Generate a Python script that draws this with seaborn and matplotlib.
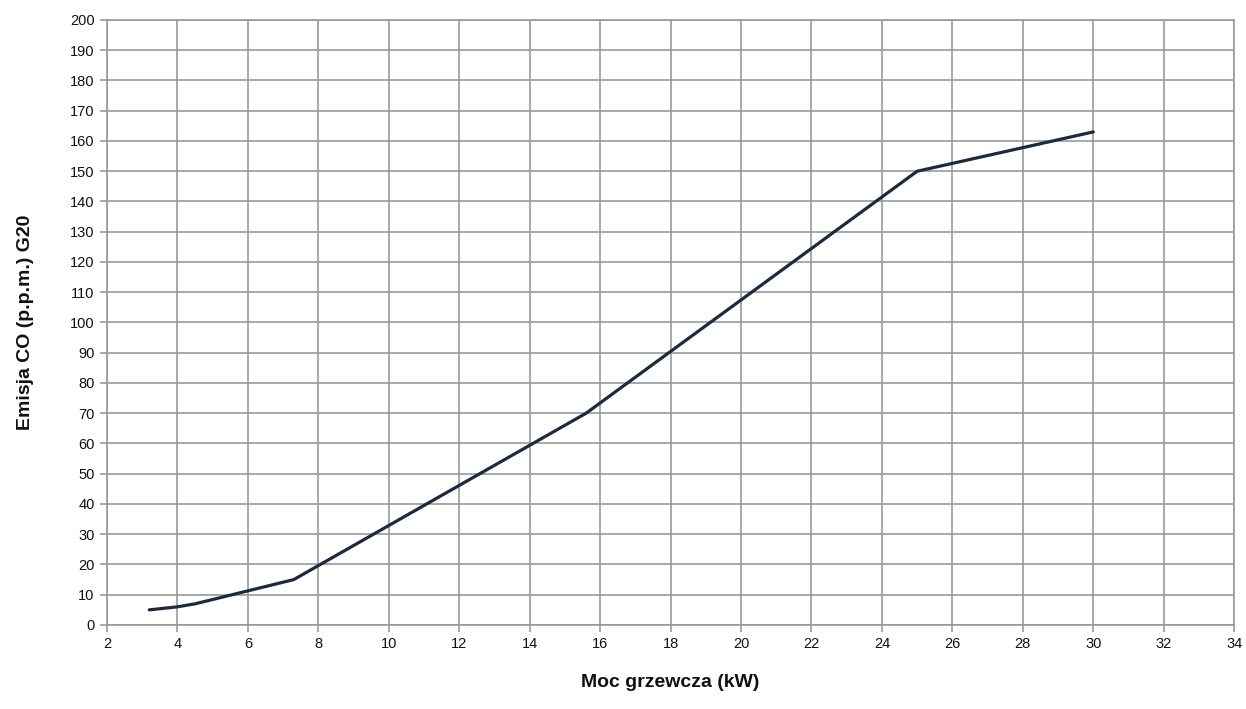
import pandas as pd
import seaborn as sns
import matplotlib.pyplot as plt

# data
moc_kw = [3.2, 4.0, 4.5, 7.3, 15.6, 25.0, 30.0]
emisja_co = [5, 6, 7, 15, 70, 150, 163]

df = pd.DataFrame({'moc': moc_kw, 'co': emisja_co})

sns.set_style('white', {'xtick.bottom': True, 'ytick.left': True})
plt.rcParams['font.family'] = ['Liberation Sans', 'DejaVu Sans']

fig = plt.figure(figsize=(12.46, 7.09), dpi=100)
ax = fig.add_axes([0.0859, 0.1185, 0.9046, 0.8533])

sns.lineplot(data=df, x='moc', y='co', ax=ax, color='#1b2a3f', linewidth=2.3)

ax.set_xlim(2, 34)
ax.set_ylim(0, 200)
ax.set_xticks(range(2, 35, 2))
ax.set_yticks(range(0, 201, 10))
ax.grid(True, color='#999999', linewidth=1.2)
ax.set_axisbelow(True)
for s in ax.spines.values():
    s.set_color('#999999')
    s.set_linewidth(1.2)
ax.tick_params(axis='both', direction='out', length=5, width=1.2, color='#999999',
               labelsize=10.5, labelcolor='#111111', pad=4)

ax.set_xlabel('Moc grzewcza (kW)', fontsize=14, fontweight='bold', labelpad=16, color='#111111')
ax.set_ylabel('Emisja CO (p.p.m.) G20', fontsize=14, fontweight='bold', labelpad=26, color='#111111')

fig.savefig('out.png', dpi=100)
